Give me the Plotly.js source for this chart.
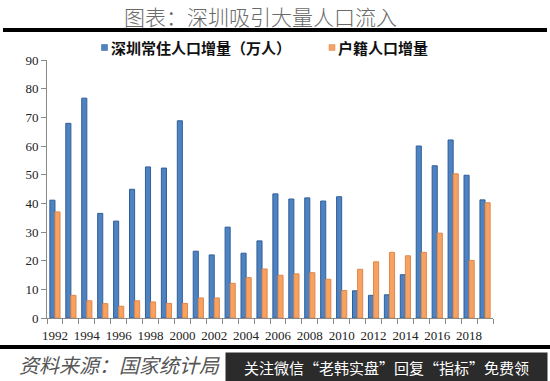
<!DOCTYPE html>
<html>
<head>
<meta charset="utf-8">
<script src="https://cdn.plot.ly/plotly-3.0.1.min.js"></script>
<style>html,body{margin:0;padding:0;background:#fff;}#chart{width:550px;height:381px;}</style>
</head>
<body>
<div id="chart"></div>
<script>
const years = [1992,1993,1994,1995,1996,1997,1998,1999,2000,2001,2002,2003,2004,2005,2006,2007,2008,2009,2010,2011,2012,2013,2014,2015,2016,2017,2018,2019];
const residentIncrease = [41.1,67.9,76.7,36.5,33.8,44.9,52.7,52.3,68.8,23.3,22.0,31.7,22.6,26.9,43.3,41.5,41.9,40.8,42.3,9.5,7.9,8.1,15.1,60.0,53.1,62.1,49.8,41.2];
const hukouIncrease = [37.0,7.9,6.0,5.0,4.1,6.0,5.6,5.1,5.1,7.0,7.0,12.1,14.1,17.1,14.9,15.4,15.8,13.5,9.6,17.0,19.6,22.9,21.7,22.9,29.6,50.3,20.1,40.2];
const seriesNames = ['深圳常住人口增量（万人）', '户籍人口增量'];
const seriesColors = ['#4f82c0', '#f5a263'];
const seriesEdges = ['#2f5f99', '#e0874a'];
const labelYears = years.filter((y, i) => i % 2 === 0);
const titleText = '图表：深圳吸引大量人口流入';
const sourceText = '资料来源：国家统计局';
const overlayText = '关注微信“老韩实盘”回复“指标”免费领';

const W = 550, H = 381;
const L = 47, R = 493, T = 60, B = 318;
const px = x => (x - L) / (R - L);
const py = y => (B - y) / (B - T);

const traces = seriesNames.map((n, i) => ({
  type: 'bar', x: years, y: i === 0 ? residentIncrease : hukouIncrease, name: n,
  marker: {color: seriesColors[i], line: {color: seriesEdges[i], width: 1}}
}));

const boundaries = years.map(y => y - 0.5).concat([years[years.length-1] + 0.5]);

// manual legend positions (pixels)
const legSq = [104.5, 332];
const legY = 47.5;

const shapes = [
  {type: 'line', xref: 'paper', yref: 'paper', x0: px(3), x1: px(547), y0: py(30), y1: py(30),
   line: {color: '#000', width: 4}},
  {type: 'line', xref: 'paper', yref: 'paper', x0: px(0), x1: px(550), y0: py(347), y1: py(347),
   line: {color: '#000', width: 4}}
];
legSq.forEach((cx, i) => shapes.push({type: 'rect', xref: 'paper', yref: 'paper',
  x0: px(cx - 3), x1: px(cx + 3), y0: py(legY - 3), y1: py(legY + 3),
  fillcolor: seriesColors[i], line: {color: seriesEdges[i], width: 0.5}}));

const annotations = [];
annotations.push({xref: 'paper', yref: 'paper', x: px(260), xanchor: 'center', y: py(16.5), yanchor: 'middle',
  text: titleText, showarrow: false,
  font: {family: 'Noto Sans CJK SC', size: 21, color: '#6a6a6a', weight: 300}});
seriesNames.forEach((n, i) => annotations.push({xref: 'paper', yref: 'paper',
  x: px(legSq[i] + 4), xanchor: 'left', y: py(legY), yanchor: 'middle', text: n, showarrow: false,
  font: {family: 'Noto Sans CJK SC', size: 15, color: '#111', weight: 'bold'}}));
annotations.push({xref: 'paper', yref: 'paper', x: px(17), xanchor: 'left', y: py(364), yanchor: 'middle',
  text: sourceText, showarrow: false,
  font: {family: 'Noto Sans CJK SC', size: 20, color: '#555', style: 'italic'}});
annotations.push({xref: 'paper', yref: 'paper', x: px(225), xanchor: 'left', y: py(352), yanchor: 'top',
  text: overlayText, showarrow: false, width: 321, height: 29, bgcolor: '#2b2b2b',
  align: 'center', valign: 'middle', borderpad: 0,
  font: {family: 'Noto Sans CJK SC', size: 15, color: '#fff'}});

const layout = {
  width: W, height: H,
  margin: {l: L, r: W - R, t: T, b: H - B, pad: 0},
  paper_bgcolor: '#fff', plot_bgcolor: '#fff',
  barmode: 'group', bargap: 0.36, bargroupgap: 0,
  showlegend: false,
  xaxis: {range: [years[0]-0.5, years[years.length-1]+0.5], tickvals: labelYears,
          ticktext: labelYears.map(String), ticks: 'outside', ticklen: 5, tickcolor: 'rgba(0,0,0,0)',
          showline: true, linecolor: '#8a8a8a', linewidth: 1, showgrid: false, zeroline: false,
          tickfont: {family: 'Liberation Serif', size: 13, color: '#222'},
          minor: {tickvals: boundaries, ticks: 'outside', ticklen: 5, tickcolor: '#8a8a8a', tickwidth: 1, showgrid: false}},
  yaxis: {range: [0, 90], dtick: 10, tick0: 0, ticks: 'outside', ticklen: 5, tickcolor: '#8a8a8a',
          showline: true, linecolor: '#8a8a8a', linewidth: 1, showgrid: false, zeroline: false,
          tickfont: {family: 'Liberation Serif', size: 13, color: '#222'}},
  shapes: shapes,
  annotations: annotations
};

Plotly.newPlot('chart', traces, layout, {displayModeBar: false, staticPlot: true});
</script>
</body>
</html>
